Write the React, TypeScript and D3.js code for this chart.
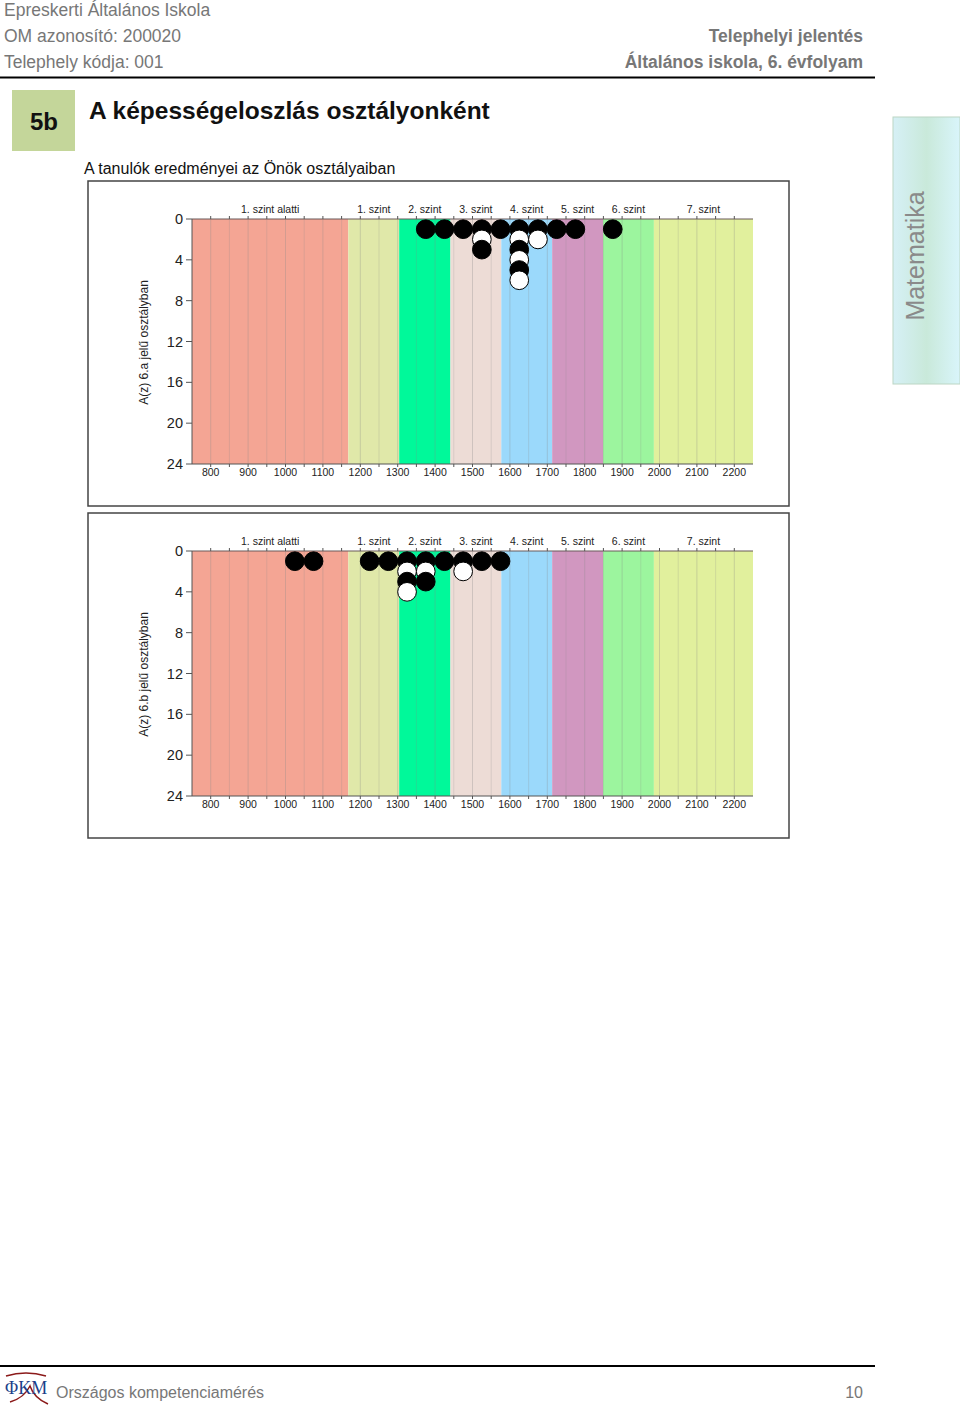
import React from "react";
import * as d3 from "d3";

// skill levels (band edges on the score scale)
const levelNames = ["1. szint alatti", "1. szint", "2. szint", "3. szint", "4. szint", "5. szint", "6. szint", "7. szint"];
const levelBounds = [750, 1168, 1304, 1441, 1577, 1713, 1849, 1985, 2250];
const levelColors = ["#f4a594", "#e0e8a9", "#00f99a", "#eddcd6", "#9bd9fb", "#d197c0", "#9cf59e", "#e1f09d"];

const xTicks = [800, 900, 1000, 1100, 1200, 1300, 1400, 1500, 1600, 1700, 1800, 1900, 2000, 2100, 2200];
const yTicks = [0, 4, 8, 12, 16, 20, 24];

// 6.a class: bin centres and number of students
const binsA = [1375, 1425, 1475, 1525, 1575, 1625, 1675, 1725, 1775, 1875];
const countsA = [1, 1, 1, 3, 1, 6, 2, 1, 1, 1];

// 6.b class
const binsB = [1025, 1075, 1225, 1275, 1325, 1375, 1425, 1475, 1525, 1575];
const countsB = [1, 1, 1, 1, 4, 3, 1, 2, 1, 1];

const font = "'Liberation Sans', Arial, sans-serif";

const x = d3.scaleLinear().domain([750, 2250]).range([192, 753]);
const minor = d3.range(800, 2250, 50);

const Chart = ({ top, label, bins, counts }) => {
  const plotTop = top + 38;
  const y = d3.scaleLinear().domain([0, 24]).range([plotTop, plotTop + 245]);
  const r = (x(800) - x(750)) / 2;
  const dots = [];
  bins.forEach((b, i) => {
    for (let k = 1; k <= counts[i]; k++) dots.push({ b, k });
  });
  return (
    <g>
      <rect x={88} y={top} width={701} height={325} fill="#fff" stroke="#444" strokeWidth={1.5} />
      {levelNames.map((n, i) => (
        <rect key={n} x={x(levelBounds[i])} y={y(0)} width={x(levelBounds[i + 1]) - x(levelBounds[i])}
          height={y(24) - y(0)} fill={levelColors[i]} />
      ))}
      {minor.map((v) => (
        <line key={v} x1={x(v)} x2={x(v)} y1={y(0)} y2={y(24)} stroke="#888"
          strokeOpacity={v % 100 === 0 ? 0.3 : 0.22} />
      ))}
      {levelNames.map((n, i) => (
        <text key={n} x={(x(levelBounds[i]) + x(levelBounds[i + 1])) / 2} y={plotTop - 6}
          textAnchor="middle" fontSize={10.5} fontFamily={font} fill="#222">{n}</text>
      ))}
      {/* top axis */}
      <line x1={x(750)} x2={x(2250)} y1={y(0)} y2={y(0)} stroke="#6a5a5a" strokeWidth={1.2} />
      {minor.map((v) => (
        <line key={"t" + v} x1={x(v)} x2={x(v)} y1={y(0) - 3} y2={y(0)} stroke="#555" />
      ))}
      {/* bottom axis */}
      <line x1={x(750)} x2={x(2250)} y1={y(24)} y2={y(24)} stroke="#555" />
      {minor.map((v) => (
        <line key={"b" + v} x1={x(v)} x2={x(v)} y1={y(24)} y2={y(24) + 3} stroke="#555" />
      ))}
      {xTicks.map((v) => (
        <text key={v} x={x(v)} y={y(24) + 12} textAnchor="middle" fontSize={10.5} fontFamily={font} fill="#222">{v}</text>
      ))}
      {/* left axis */}
      <line x1={x(750)} x2={x(750)} y1={y(0)} y2={y(24)} stroke="#555" />
      {yTicks.map((v) => (
        <g key={v}>
          <line x1={x(750) - 6} x2={x(750)} y1={y(v)} y2={y(v)} stroke="#555" />
          <text x={183} y={y(v) + 5} textAnchor="end" fontSize={14.5} fontFamily={font} fill="#222">{v}</text>
        </g>
      ))}
      <text transform={`translate(148,${(y(0) + y(24)) / 2 + 1}) rotate(-90)`} textAnchor="middle"
        fontSize={12} fontFamily={font} fill="#222">{label}</text>
      {dots.map((d, i) => (
        <circle key={i} cx={x(d.b)} cy={y(d.k)} r={r} fill={d.k % 2 === 1 ? "#000" : "#fff"}
          stroke="#000" strokeWidth={1} />
      ))}
    </g>
  );
};

export default function App() {
  return (
    <svg width={960} height={1409} style={{ position: "absolute", left: 0, top: 0, background: "#fff" }}>
      <defs>
        <linearGradient id="tab" x1="0" x2="1" y1="0" y2="0">
          <stop offset="0" stopColor="#d6f0f6" />
          <stop offset="0.5" stopColor="#c9e9da" />
          <stop offset="1" stopColor="#d9f5fb" />
        </linearGradient>
      </defs>
      {/* header */}
      <g fontFamily={font} fontSize={17.5} fill="#777">
        <text x={4} y={16}>Epreskerti Általános Iskola</text>
        <text x={4} y={42}>OM azonosító: 200020</text>
        <text x={4} y={68}>Telephely kódja: 001</text>
        <text x={863} y={42} textAnchor="end" fontWeight="bold">Telephelyi jelentés</text>
        <text x={863} y={68} textAnchor="end" fontWeight="bold">Általános iskola, 6. évfolyam</text>
      </g>
      <line x1={0} x2={875} y1={77.5} y2={77.5} stroke="#000" strokeWidth={2} />

      <rect x={12} y={90} width={63} height={61} fill="#c4d69a" />
      <text x={44} y={130} textAnchor="middle" fontFamily={font} fontSize={24} fontWeight="bold" fill="#111">5b</text>
      <text x={89} y={119} fontFamily={font} fontSize={24.5} fontWeight="bold" fill="#111">A képességeloszlás osztályonként</text>
      <text x={84} y={174} fontFamily={font} fontSize={16} fill="#111">A tanulók eredményei az Önök osztályaiban</text>

      <rect x={893} y={117} width={67} height={267} fill="url(#tab)" stroke="#bcd6c4" />
      <text transform="translate(924,256) rotate(-90)" textAnchor="middle" fontFamily={font} fontSize={25} fill="#8a8a8a">Matematika</text>

      <Chart top={181} label="A(z) 6.a jelű osztályban" bins={binsA} counts={countsA} />
      <Chart top={513} label="A(z) 6.b jelű osztályban" bins={binsB} counts={countsB} />

      {/* footer */}
      <line x1={0} x2={875} y1={1366} y2={1366} stroke="#000" strokeWidth={2} />
      <path d="M6,1376 Q26,1370 46,1376" fill="none" stroke="#8b1a1a" strokeWidth={1.5} />
      <path d="M10,1402 Q24,1398 30,1386 Q34,1398 48,1404" fill="none" stroke="#8b1a1a" strokeWidth={1.5} />
      <text x={5} y={1394} fontFamily="'Liberation Serif', serif" fontSize={18} fill="#1d3f8a">ΦKM</text>
      <text x={56} y={1398} fontFamily={font} fontSize={16} fill="#777">Országos kompetenciamérés</text>
      <text x={863} y={1398} textAnchor="end" fontFamily={font} fontSize={16} fill="#777">10</text>
    </svg>
  );
}
